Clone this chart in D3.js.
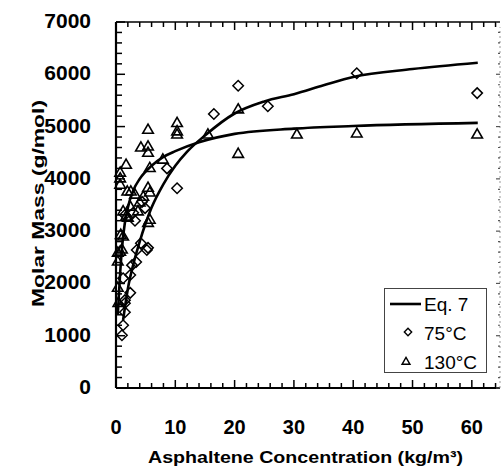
<!DOCTYPE html>
<html>
<head>
<meta charset="utf-8">
<script src="https://cdn.jsdelivr.net/npm/d3@7"></script>
<style>
  body { margin: 0; background: #fff; }
  text { font-family: "Liberation Sans", Arial, sans-serif; }
</style>
</head>
<body>
<svg id="chart" width="501" height="473"></svg>
<script>
// data: [concentration kg/m3, molar mass g/mol]
const data75 = [
    [1.0, 1010], [1.2, 1200], [1.5, 1450], [1.5, 1620], [2.4, 1820], [1.5, 1680],
    [2.4, 2160], [1.2, 2100], [2.7, 2350], [3.4, 2410], [3.5, 2640], [4.2, 2770],
    [5.2, 2640], [5.4, 2680], [1.5, 3310], [2.9, 3350], [4.9, 3440], [4.4, 3560],
    [3.2, 3200], [8.6, 4200], [10.3, 3820], [16.5, 5240], [20.6, 5780],
    [25.6, 5390], [40.6, 6020], [60.9, 5640]
];
const data130 = [
    [0.3, 1910], [0.4, 1620], [0.3, 2410], [0.3, 2580], [0.7, 2600], [0.8, 2920],
    [1.0, 2640], [1.2, 2890], [1.2, 3370], [2.0, 3250], [2.4, 3460], [1.7, 3270],
    [1.9, 3750], [3.2, 3690], [4.0, 3540], [3.7, 3370], [4.6, 3650], [5.7, 3730],
    [5.4, 3150], [5.7, 3210], [0.7, 3880], [0.7, 4000], [0.7, 4110], [2.5, 3750],
    [5.4, 3820], [1.7, 4260], [5.7, 4200], [4.2, 4590], [5.4, 4610], [5.4, 4490],
    [5.4, 4930], [7.9, 4360], [10.3, 4840], [10.3, 4900], [10.3, 5060],
    [15.5, 4840], [20.6, 5320], [20.6, 4470], [30.5, 4840], [40.6, 4860], [60.9, 4840]
];
// Eq. 7 fits
const fitLow = [
    [0.3, 1400], [0.7, 2200], [1.2, 2900], [2, 3450], [3, 3800], [4, 4000],
    [6, 4250], [8, 4420], [10, 4530], [14, 4700], [20, 4860], [30, 4960],
    [40, 5010], [61, 5070]
];
const fitHigh = [
    [1.2, 1300], [2, 1900], [3, 2400], [4, 2800], [5, 3150], [6, 3450],
    [8, 3900], [10, 4250], [12, 4520], [15, 4830], [20, 5250], [25, 5480],
    [30, 5620], [35, 5790], [40, 5950], [50, 6100], [61, 6220]
];
const xTicks = [0, 10, 20, 30, 40, 50, 60];
const yTicks = [0, 1000, 2000, 3000, 4000, 5000, 6000, 7000];
const legendItems = ["Eq. 7", "75°C", "130°C"];

const svg = d3.select("#chart");

const x = d3.scaleLinear().domain([0, 64.75]).range([116, 500]);
const y = d3.scaleLinear().domain([0, 7000]).range([388, 22]);

// frame: bottom, left, top solid; right side faint
const frame = svg.append("g").attr("stroke", "#000").attr("fill", "none");
frame.append("line").attr("x1", x(0)).attr("x2", 500).attr("y1", y(0)).attr("y2", y(0)).attr("stroke-width", 2.2);
frame.append("line").attr("x1", x(0)).attr("x2", x(0)).attr("y1", y(0)).attr("y2", y(7000)).attr("stroke-width", 2.2);
frame.append("line").attr("x1", x(0)).attr("x2", 500).attr("y1", y(7000)).attr("y2", y(7000)).attr("stroke-width", 1.6);
frame.append("line").attr("x1", 500).attr("x2", 500).attr("y1", y(0)).attr("y2", y(6900))
    .attr("stroke", "#999").attr("stroke-width", 1).attr("stroke-dasharray", "2,3");

// minor + major ticks (pointing inward)
const xMinor = d3.range(0, 65, 2);
const yMinor = d3.range(0, 7001, 200);
const ticks = svg.append("g").attr("stroke", "#000");
ticks.selectAll("line.xb").data(xMinor).join("line").attr("class", "xb")
    .attr("x1", d => x(d)).attr("x2", d => x(d))
    .attr("y1", y(0)).attr("y2", d => y(0) - (d % 10 === 0 ? 8 : 5))
    .attr("stroke-width", 1.5);
ticks.selectAll("line.xt").data(xMinor).join("line").attr("class", "xt")
    .attr("x1", d => x(d)).attr("x2", d => x(d))
    .attr("y1", y(7000)).attr("y2", d => y(7000) + (d % 10 === 0 ? 8 : 5))
    .attr("stroke-width", 1.5);
ticks.selectAll("line.yl").data(yMinor).join("line").attr("class", "yl")
    .attr("x1", x(0)).attr("x2", d => x(0) + (d % 1000 === 0 ? 9 : 6))
    .attr("y1", d => y(d)).attr("y2", d => y(d))
    .attr("stroke-width", 1.5);
ticks.selectAll("line.yr").data(yMinor).join("line").attr("class", "yr")
    .attr("x1", 500).attr("x2", d => 500 - (d % 1000 === 0 ? 4 : 2))
    .attr("y1", d => y(d)).attr("y2", d => y(d))
    .attr("stroke", "#555").attr("stroke-width", 1.2);

// tick labels
svg.append("g").selectAll("text").data(xTicks).join("text")
    .attr("x", d => x(d)).attr("y", 434)
    .attr("text-anchor", "middle")
    .attr("font-size", 20).attr("font-weight", "bold")
    .text(d => d);
svg.append("g").selectAll("text").data(yTicks).join("text")
    .attr("x", 91).attr("y", d => y(d) + 6)
    .attr("text-anchor", "end")
    .attr("font-size", 21).attr("font-weight", "bold")
    .text(d => d);

// axis titles (the scan's font is wider, so stretch to the measured length)
svg.append("text")
    .attr("x", 148).attr("y", 463)
    .attr("font-size", 17).attr("font-weight", "bold")
    .attr("textLength", 315).attr("lengthAdjust", "spacingAndGlyphs")
    .text("Asphaltene Concentration (kg/m³)");
svg.append("text")
    .attr("transform", "translate(44,307) rotate(-90)")
    .attr("font-size", 17).attr("font-weight", "bold")
    .attr("textLength", 207).attr("lengthAdjust", "spacingAndGlyphs")
    .text("Molar Mass (g/mol)");

// markers
const diamond = d3.symbol().type(d3.symbolDiamond2).size(70);
const triangle = d3.symbol().type(d3.symbolTriangle2).size(80);

const plot = svg.append("g");
plot.selectAll("path.d75").data(data75).join("path").attr("class", "d75")
    .attr("transform", d => `translate(${x(d[0])},${y(d[1])})`)
    .attr("d", diamond)
    .attr("fill", "none").attr("stroke", "#000").attr("stroke-width", 1.5);
plot.selectAll("path.t130").data(data130).join("path").attr("class", "t130")
    .attr("transform", d => `translate(${x(d[0])},${y(d[1])})`)
    .attr("d", triangle)
    .attr("fill", "none").attr("stroke", "#000").attr("stroke-width", 1.6);

const line = d3.line().x(d => x(d[0])).y(d => y(d[1])).curve(d3.curveMonotoneX);
[fitLow, fitHigh].forEach(f => {
    plot.append("path").datum(f).attr("d", line)
        .attr("fill", "none").attr("stroke", "#000").attr("stroke-width", 2.6);
});

// legend
const lg = svg.append("g");
lg.append("rect").attr("x", 384.5).attr("y", 288.5).attr("width", 102).attr("height", 84)
    .attr("fill", "#fff").attr("stroke", "#444").attr("stroke-width", 1);
lg.append("line").attr("x1", 390).attr("x2", 421).attr("y1", 304).attr("y2", 304)
    .attr("stroke", "#000").attr("stroke-width", 2.6);
lg.append("path").attr("transform", "translate(408,332)")
    .attr("d", d3.symbol().type(d3.symbolDiamond2).size(34))
    .attr("fill", "none").attr("stroke", "#000").attr("stroke-width", 1.4);
lg.append("path").attr("transform", "translate(406,362)")
    .attr("d", d3.symbol().type(d3.symbolTriangle2).size(45))
    .attr("fill", "none").attr("stroke", "#000").attr("stroke-width", 1.4);
lg.selectAll("text").data(legendItems).join("text")
    .attr("x", 424)
    .attr("y", (d, i) => 311 + i * 29)
    .attr("font-size", 19)
    .text(d => d);
</script>
</body>
</html>
